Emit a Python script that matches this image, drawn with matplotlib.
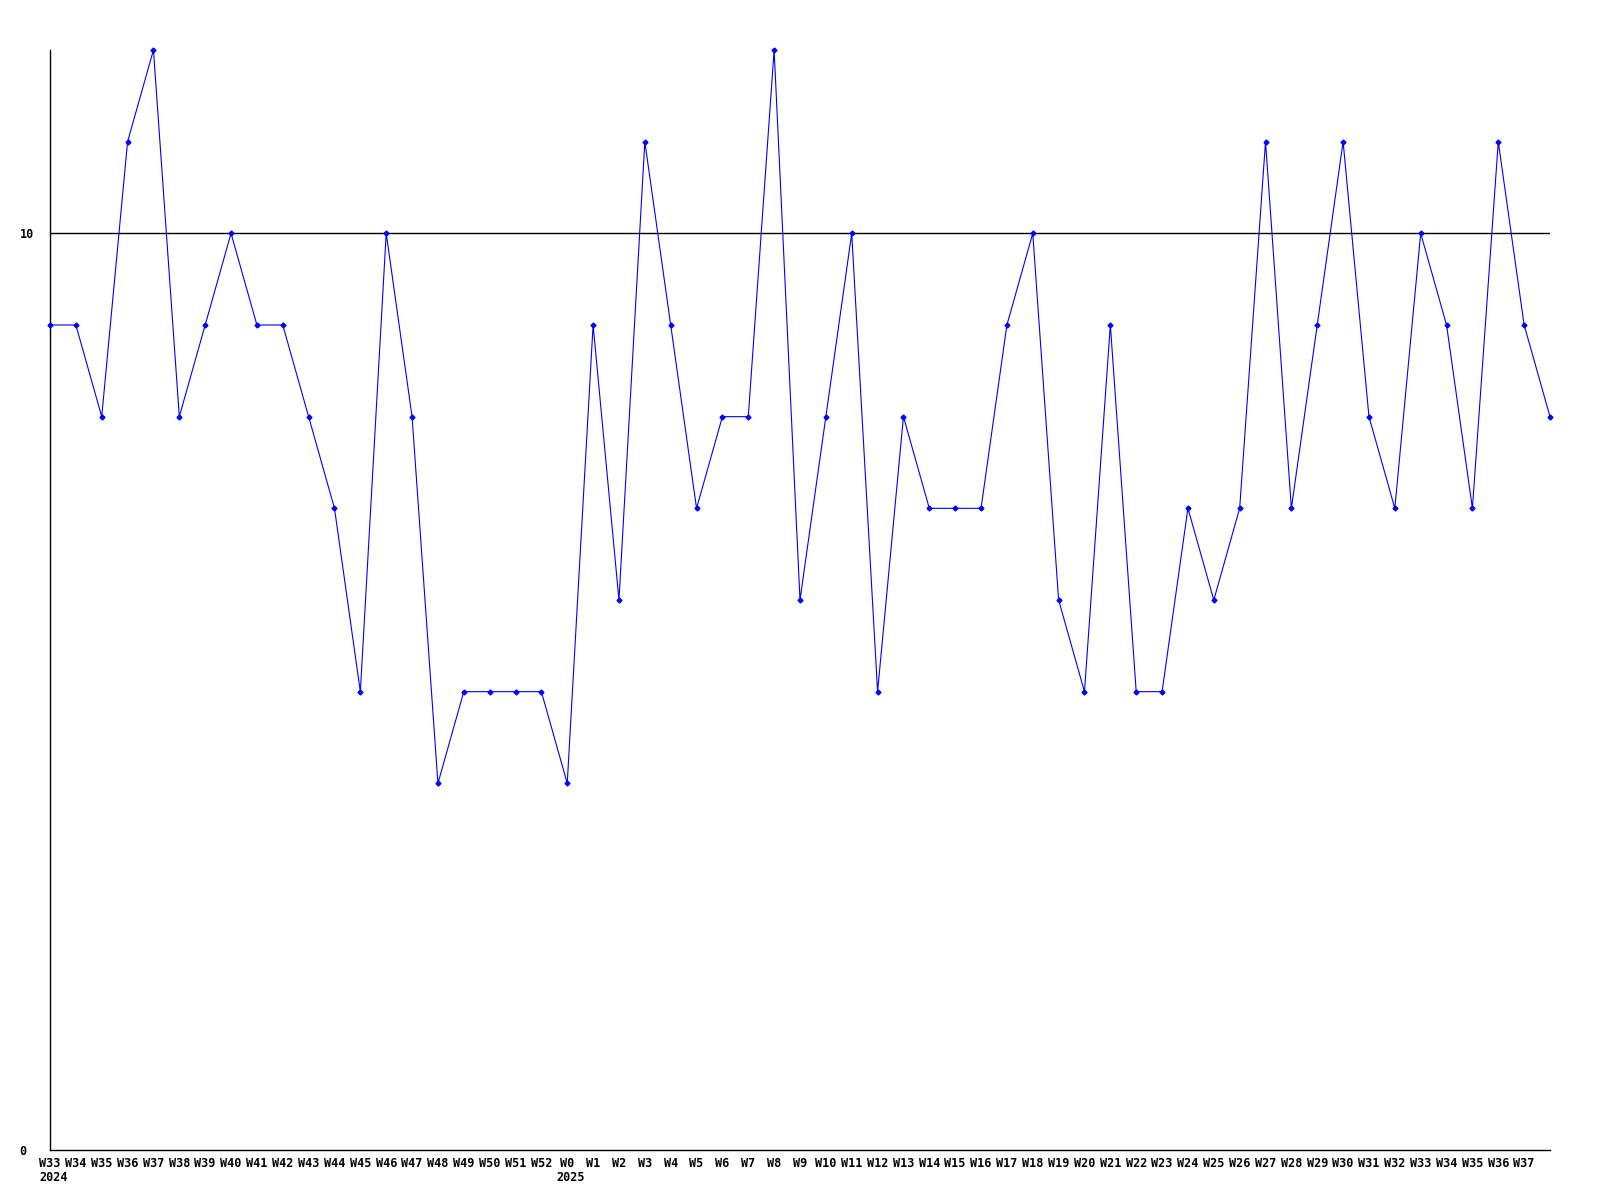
import matplotlib
matplotlib.use('Agg')
import matplotlib.pyplot as plt

# weekly counts, W33 2024 .. W37 2025 (+ current week without label)
weeks = ['W33', 'W34', 'W35', 'W36', 'W37', 'W38', 'W39', 'W40', 'W41', 'W42',
         'W43', 'W44', 'W45', 'W46', 'W47', 'W48', 'W49', 'W50', 'W51', 'W52',
         'W0', 'W1', 'W2', 'W3', 'W4', 'W5', 'W6', 'W7', 'W8', 'W9',
         'W10', 'W11', 'W12', 'W13', 'W14', 'W15', 'W16', 'W17', 'W18', 'W19',
         'W20', 'W21', 'W22', 'W23', 'W24', 'W25', 'W26', 'W27', 'W28', 'W29',
         'W30', 'W31', 'W32', 'W33', 'W34', 'W35', 'W36', 'W37', '']
years = {0: '2024', 20: '2025'}
values = [9, 9, 8, 11, 12, 8, 9, 10, 9, 9,
          8, 7, 5, 10, 8, 4, 5, 5, 5, 5,
          4, 9, 6, 11, 9, 7, 8, 8, 12, 6,
          8, 10, 5, 8, 7, 7, 7, 9, 10, 6,
          5, 9, 5, 5, 7, 6, 7, 11, 7, 9,
          11, 8, 7, 10, 9, 7, 11, 9, 8]

font = {'family': 'DejaVu Sans Mono', 'weight': 'bold', 'size': 8.5}

fig = plt.figure(figsize=(16, 12), dpi=100)
ax = fig.add_axes([50 / 1600, 50 / 1200, 1500 / 1600, 1100 / 1200])

x = list(range(len(values)))
ax.plot(x, values, color='#0000ff', linewidth=0.8, marker='D', markersize=2.5,
        clip_on=False, zorder=3)
ax.axhline(10, color='black', linewidth=1, zorder=2)

ax.set_xlim(0, len(values) - 1)
ax.set_ylim(0, 12)

ax.set_xticks(x)
ax.set_xticklabels(weeks, fontdict=font)

# year under the first week of each year
for i, yr in years.items():
    ax.annotate(yr, xy=(i, 0), xycoords=('data', 'axes fraction'),
                xytext=(-7.6, -15), textcoords='offset points',
                ha='left', va='top', fontproperties=None, **font)

ax.set_yticks([0, 10])
ax.set_yticklabels(['0', '10'], fontdict=font, ha='left')
ax.tick_params(axis='both', length=0)
ax.tick_params(axis='x', pad=5)
ax.tick_params(axis='y', pad=22)

for s in ['top', 'right']:
    ax.spines[s].set_visible(False)
for s in ['left', 'bottom']:
    ax.spines[s].set_color('black')
    ax.spines[s].set_linewidth(1)

fig.savefig('out.png', dpi=100, facecolor='white')
